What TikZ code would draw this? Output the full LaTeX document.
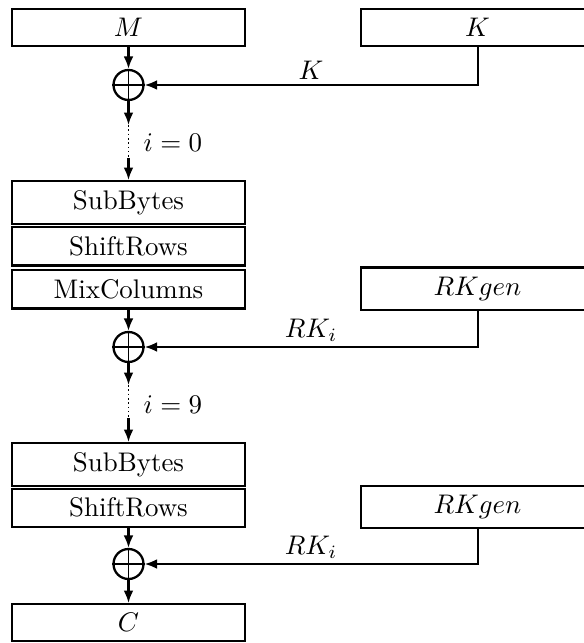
\documentclass[tikz,border=0pt]{standalone}
\usetikzlibrary{arrows.meta}
\begin{document}
\begin{tikzpicture}[x=0.3717pt,y=-0.3717pt,
  stage/.style={draw,line width=0.8pt,rectangle,minimum width=86.6pt,
    inner xsep=0pt,inner ysep=3.5pt,anchor=north},
  xorop/.style={draw,line width=0.85pt,circle,minimum size=11.15pt,inner sep=0pt},
  flow/.style={line width=0.75pt,-{Latex[length=4.6pt,width=3.6pt]}},
  feed/.style={line width=0.75pt,-{Latex[length=4.6pt,width=3.6pt]}},
  rounds/.style={line width=0.6pt,densely dotted},
  keylabel/.style={above,inner sep=1.5pt},
  countlabel/.style={anchor=base west,inner sep=0pt}]
\useasboundingbox (0,0) rectangle (584,643);

% data path
\node[stage] (M) at (128.5,8) {$M$};
\node[xorop] (x1) at (128.5,85) {};
\coordinate (d1a) at (128.5,125);
\coordinate (d1b) at (128.5,158);
\node[stage] (sb1) at (128.5,180) {SubBytes};
\node[stage] (sr1) at (128.5,226) {ShiftRows};
\node[stage] (mc1) at (128.5,269) {MixColumns};
\node[xorop] (x2) at (128.5,347) {};
\coordinate (d2a) at (128.5,385);
\coordinate (d2b) at (128.5,418);
\node[stage] (sb2) at (128.5,442) {SubBytes};
\node[stage] (sr2) at (128.5,487.5) {ShiftRows};
\node[xorop] (x3) at (128.5,564) {};
\node[stage] (C) at (128.5,603) {$C$};

% key path
\node[stage] (K) at (477.5,8) {$K$};
\node[stage] (rk1) at (477.5,266.5) {$RKgen$};
\node[stage] (rk2) at (477.5,484.5) {$RKgen$};

% crosses inside the XOR circles
\foreach \x in {x1,x2,x3}{
  \draw[line width=0.5pt] (\x.north) -- (\x.south) (\x.west) -- (\x.east);
}

% connectors
\draw[flow] (M) -- (x1);
\draw[flow] (x1) -- (d1a);
\draw[rounds] (d1a) -- (d1b);
\draw[flow] (d1b) -- (sb1);
\node[countlabel] (c0) at (143,151.5) {$i=0$};
\draw[flow] (mc1) -- (x2);
\draw[flow] (x2) -- (d2a);
\draw[rounds] (d2a) -- (d2b);
\draw[flow] (d2b) -- (sb2);
\node[countlabel] (c9) at (143,413) {$i=9$};
\draw[flow] (sr2) -- (x3);
\draw[flow] (x3) -- (C);

\draw[feed] (K.south) |- (x1) node[keylabel,pos=0.75] {$K$};
\draw[feed] (rk1.south) |- (x2) node[keylabel,pos=0.75] {$RK_i$};
\draw[feed] (rk2.south) |- (x3) node[keylabel,pos=0.75] {$RK_i$};
\end{tikzpicture}
\end{document}
